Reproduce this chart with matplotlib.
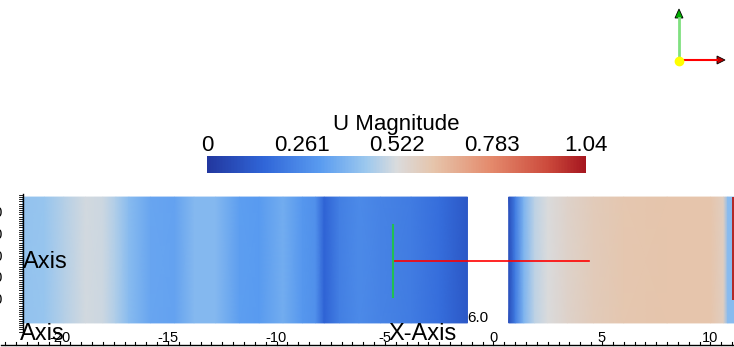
import numpy as np
import matplotlib.pyplot as plt
from matplotlib import cm, colors

plt.rcParams['font.family'] = ['Liberation Sans', 'DejaVu Sans']

# U magnitude profile along x (two blocks of the domain)
x_left = [-21.7, -20.7, -19.8, -18.8, -18.0, -17.4, -16.8, -15.8, -14.7, -13.8,
          -12.8, -11.7, -10.8, -9.7, -8.8, -8.2, -7.8, -7.1, -6.2, -5.2,
          -3.8, -2.5, -1.2]
u_left = [0.42, 0.43, 0.47, 0.51, 0.50, 0.46, 0.40, 0.34, 0.33, 0.39,
          0.39, 0.32, 0.31, 0.36, 0.30, 0.28, 0.15, 0.23, 0.26, 0.24,
          0.22, 0.18, 0.11]
x_right = [0.7, 1.0, 1.4, 1.9, 2.5, 3.4, 4.6, 6.0, 8.0, 10.0, 10.6, 10.8, 11.1]
u_right = [0.08, 0.22, 0.38, 0.48, 0.52, 0.56, 0.59, 0.61, 0.62, 0.62, 0.58, 0.40, 0.40]
u_wall = 1.0

u_min, u_max = 0.0, 1.04
cbar_ticks = [0, 0.261, 0.522, 0.783, 1.04]
cbar_labels = ['0', '0.261', '0.522', '0.783', '1.04']
x_major = [-20, -15, -10, -5, 0, 5, 10]

# colour table
cmap = colors.LinearSegmentedColormap.from_list('paraview_cw', [
    (0.00, '#22379f'), (0.15, '#3066d8'), (0.30, '#5a9cf0'), (0.42, '#9cc8ee'),
    (0.50, '#dadbdd'), (0.60, '#e6c4aa'), (0.75, '#e48a6c'), (0.90, '#cc4a3c'),
    (1.00, '#a5161f')])

scale = 21.7      # pixels per unit
x0_px = 493.5     # pixel column of x = 0
yc_px = 260.0     # pixel row of y = 0
W, H = 734, 347

fig = plt.figure(figsize=(W / 100, H / 100), dpi=100)
ax = fig.add_axes([0, 0, 1, 1])
ax.set_xlim(-x0_px / scale, (W - x0_px) / scale)
ax.set_ylim(-(H - yc_px) / scale, yc_px / scale)
ax.axis('off')

norm = colors.Normalize(u_min, u_max)
y_half = 2.9

for xs, us in [(x_left, u_left), (x_right, u_right)]:
    X = np.array([xs, xs])
    Y = np.array([[-y_half] * len(xs), [y_half] * len(xs)])
    C = np.array([us, us])
    ax.pcolormesh(X, Y, C, cmap=cmap, norm=norm, shading='gouraud')

# hot strip at the right wall
ax.add_patch(plt.Rectangle((10.98, -1.85), 0.3, 4.75, color=cmap(norm(u_wall)), lw=0))

# center axes widget
cx, cy = -4.63, -0.05
ax.plot([cx, 4.4], [cy, cy], color='#ff0000', lw=1.2)
ax.plot([cx, cx], [-1.71, 1.61], color='#22c050', lw=1.5)
ax.text(-1.22, -2.67, '6.0', fontsize=11, ha='left', va='center')

# bottom x axis (ParaView style)
y_ax = -3.92
ax.plot([-22.7, 11.1], [y_ax, y_ax], color='black', lw=1)
for t in np.arange(-22.5, 11.01, 0.5):
    ax.plot([t, t], [y_ax, y_ax + 0.16], color='black', lw=0.8)
for t in x_major:
    ax.text(t, y_ax - 0.02, str(t), fontsize=10.5, ha='center', va='bottom')
ax.text(-3.25, y_ax - 0.02, 'X-Axis', fontsize=17, ha='center', va='bottom')
ax.text(-19.75, y_ax - 0.02, 'Axis', fontsize=17, ha='right', va='bottom')

# left y axis, labels mostly clipped by the view
x_yax = -21.7
ax.plot([x_yax, x_yax], [-3.3, 3.05], color='black', lw=1)
for t in np.arange(-3.3, 3.05, 0.1):
    ax.plot([x_yax - 0.15, x_yax], [t, t], color='black', lw=0.6)
for t in [2, 1, 0, -1, -2]:
    ax.text(-22.6, t + 0.15, str(abs(t)) + '.0', fontsize=10.5, ha='right', va='center')
ax.text(-21.7, -0.1, 'Axis', fontsize=17, ha='left', va='center')

# colorbar
cax = fig.add_axes([207 / W, 1 - 173 / H, 379 / W, 17 / H])
cb = fig.colorbar(cm.ScalarMappable(norm=norm, cmap=cmap), cax=cax,
                  orientation='horizontal', ticks=cbar_ticks)
cb.outline.set_visible(False)
cax.xaxis.set_ticks_position('top')
cax.set_xticklabels(cbar_labels)
cax.tick_params(length=0, pad=0, labelsize=16)
cax.set_title('U Magnitude', fontsize=16, pad=0)

# orientation axes
oax = fig.add_axes([0, 0, 1, 1], facecolor='none')
oax.set_xlim(0, W)
oax.set_ylim(H, 0)
oax.axis('off')
ox, oy = 679, 60
oax.plot([ox, ox], [oy, 18], color='#80e080', lw=2)
oax.add_patch(plt.Polygon([[ox - 4, 18], [ox + 4, 18], [ox, 9]], closed=True,
                          facecolor='#00b000', edgecolor='black', lw=0.6))
oax.plot([ox, 717], [oy, oy], color='#ff0000', lw=1.5)
oax.add_patch(plt.Polygon([[717, oy - 4], [717, oy + 4], [725, oy]], closed=True,
                          facecolor='#c00000', edgecolor='black', lw=0.6))
oax.plot([ox], [oy + 1], 'o', color='#ffff00', ms=6)

fig.savefig('out.png', dpi=100)
